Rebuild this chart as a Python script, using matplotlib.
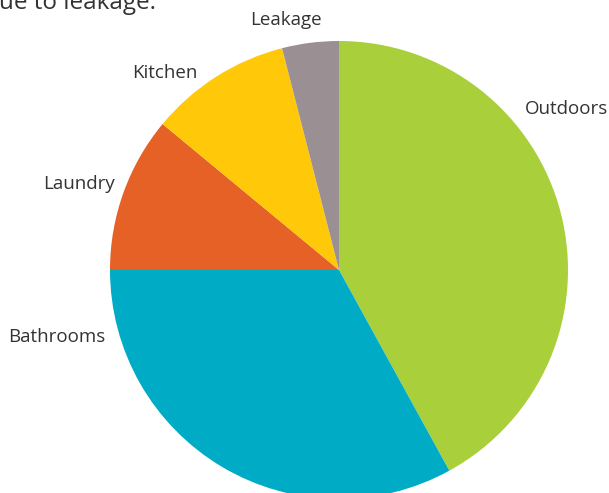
import matplotlib
matplotlib.use("Agg")
import matplotlib.pyplot as plt

categories = ["Outdoors", "Bathrooms", "Laundry", "Kitchen", "Leakage"]
values = [42, 33, 11, 10, 4]
colors = ["#A9CF3B", "#00ABC5", "#E56125", "#FFC90A", "#9A8F93"]
title_text = "ue to leakage."

W, H = 609, 493
fig = plt.figure(figsize=(W / 100, H / 100), dpi=100)
ax = fig.add_axes([0, 0, 1, 1])

cx, cy, r = 339, H - 270, 229
ax.pie(values, colors=colors, startangle=90, counterclock=False,
       center=(cx, cy), radius=r, wedgeprops=dict(linewidth=0))
ax.set_xlim(0, W)
ax.set_ylim(0, H)
ax.set_aspect("equal")
ax.axis("off")

label_pos = {
    "Leakage": (286, 20),
    "Kitchen": (165, 73),
    "Laundry": (79, 184),
    "Bathrooms": (57, 337),
    "Outdoors": (566, 109),
}
for name in categories:
    x, y = label_pos[name]
    ax.text(x, H - y, name, ha="center", va="center", fontsize=13.5,
            family="Open Sans", color="#333333")

ax.text(-1, H - 9, title_text, ha="left", va="baseline", fontsize=17.5,
        family="Open Sans", color="#333333")

fig.savefig("out.png", dpi=100)
